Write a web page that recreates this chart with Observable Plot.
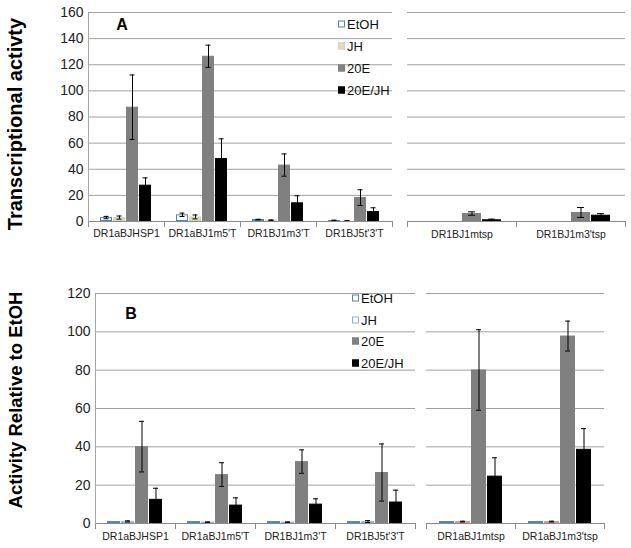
<!DOCTYPE html>
<html><head><meta charset="utf-8">
<script src="https://cdn.jsdelivr.net/npm/d3@7"></script>
<script src="https://cdn.jsdelivr.net/npm/@observablehq/plot@0.6"></script>
<style>
body{margin:0;background:#fff;}
#wrap{position:relative;width:631px;height:548px;font-family:"Liberation Sans",Arial,sans-serif;overflow:hidden;background:#fff;}
.panel{position:absolute;}
.ytitle{position:absolute;font-weight:bold;white-space:nowrap;transform:translate(-50%,-50%) rotate(-90deg);color:#000;}
.letter{position:absolute;font-weight:bold;color:#000;transform:translate(-50%,-50%);}
.legend{position:absolute;color:#111;}
.legend .row{position:absolute;left:0;white-space:nowrap;display:flex;align-items:center;transform:translateY(-50%);}
.sw{box-sizing:border-box;margin-right:2px;}
</style></head>
<body><div id="wrap"></div>
<script>
// ---------- data ----------
const seriesNames = ["EtOH", "JH", "20E", "20E/JH"];
const groupsLeft = ["DR1aBJHSP1", "DR1aBJ1m5'T", "DR1BJ1m3'T", "DR1BJ5t'3'T"];
const groupsARight = ["DR1BJ1mtsp", "DR1BJ1m3'tsp"];
const groupsBRight = ["DR1aBJ1mtsp", "DR1aBJ1m3'tsp"];
const ticksA = [0, 20, 40, 60, 80, 100, 120, 140, 160];
const ticksB = [0, 20, 40, 60, 80, 100, 120];
const titleA = "Transcriptional activty";
const titleB = "Activity Relative to EtOH";

// values per series (rows: EtOH, JH, 20E, 20E/JH), per group (columns)
const aLeftValues = [[3.0, 5.1, 1.5, 0.8], [3.0, 3.5, 1.0, 0.5], [87.5, 126.5, 43.2, 18.3], [27.8, 48.2, 14.3, 7.6]];
const aLeftErrors = [[0.9, 1.3, 0.2, 0.2], [1.2, 1.5, 0.2, 0.1], [24.7, 8.5, 8.5, 6.0], [5.6, 15.1, 5.4, 2.9]];
const aRightValues = [[0.3, 0.3], [0.1, 0.3], [6.1, 6.9], [1.3, 4.8]];
const aRightErrors = [[0, 0], [0, 0], [1.3, 3.8], [0.5, 1.2]];
const bLeftValues = [[1.0, 1.0, 1.0, 1.0], [1.1, 0.7, 0.7, 1.0], [40.1, 25.5, 32.3, 26.6], [12.6, 9.6, 10.1, 11.2]];
const bLeftErrors = [[0, 0, 0, 0], [0.3, 0.1, 0.1, 0.5], [13.2, 6.2, 6.1, 14.9], [5.8, 3.8, 2.8, 6.2]];
const bRightValues = [[1.0, 1.0], [1.0, 1.0], [80.1, 97.8], [24.7, 38.7]];
const bRightErrors = [[0, 0], [0.2, 0.2], [21.0, 7.8], [9.6, 10.8]];

// ---------- styles ----------
const fillsA = ["#ffffff", "#ddd9c3", "#808080", "#000000"];
const strokesA = ["#4f81bd", "#d6d2bb", "#808080", "#000000"];
const fillsBL = ["#ffffff", "#ffffff", "#808080", "#000000"];
const strokesBL = ["#4f81bd", "#95b3d7", "#808080", "#000000"];
const fillsBR = ["#4f81bd", "#c0504d", "#808080", "#000000"];
const strokesBR = ["#4f81bd", "#d99694", "#808080", "#000000"];

function rowsOf(groups, values, errors) {
  const rows = [];
  groups.forEach((g, gi) => seriesNames.forEach((s, si) => {
    rows.push({group: g, series: s, si, value: values[si][gi], err: errors[si][gi]});
  }));
  return rows;
}

function panel(o) {
  const rows = rowsOf(o.groups, o.values, o.errors);
  const er = rows.filter(d => d.err > 0);
  const plotH = o.height - o.mt - o.mb;
  const marks = [
    Plot.ruleY(o.ticks.filter(t => t > 0), {stroke: "#a0a0a0", strokeWidth: 1}),
    Plot.barY(rows, {fx: "group", x: "series", y: "value",
      fill: d => o.fills[d.si], stroke: d => o.strokes[d.si], strokeWidth: 1, inset: 0.5}),
    Plot.ruleX(er, {fx: "group", x: "series", y1: d => d.value - d.err, y2: d => d.value + d.err, stroke: "#000", strokeWidth: 1}),
    Plot.tickY(er, {fx: "group", x: "series", y: d => d.value + d.err, stroke: "#000", insetLeft: o.capInset, insetRight: o.capInset}),
    Plot.tickY(er, {fx: "group", x: "series", y: d => d.value - d.err, stroke: "#000", insetLeft: o.capInset, insetRight: o.capInset}),
    Plot.ruleY([0], {stroke: "#8c8c8c", strokeWidth: 1}),
    Plot.frame({anchor: "left", stroke: "#8c8c8c", insetTop: plotH, insetBottom: -5}),
    Plot.frame({anchor: "right", stroke: "#8c8c8c", insetTop: plotH, insetBottom: -5}),
    Plot.axisFx({anchor: "bottom", label: null, tickSize: 0, tickPadding: o.labPad, fontSize: 10.5, fill: "#222"})
  ];
  if (o.showY) {
    marks.push(Plot.frame({anchor: "left", stroke: "#a6a6a6", facetAnchor: "left"}));
    marks.push(Plot.axisY({ticks: o.ticks, tickSize: 0, tickPadding: 5, fontSize: 14, label: null, fill: "#222", facetAnchor: "left"}));
  }
  const chart = Plot.plot({
    width: o.width, height: o.height,
    marginLeft: o.ml, marginRight: o.mr, marginTop: o.mt, marginBottom: o.mb,
    fx: {domain: o.groups, padding: 0, axis: null},
    x: {domain: seriesNames, axis: null, paddingInner: 0.04, paddingOuter: o.po},
    y: {domain: [0, o.ticks[o.ticks.length - 1]], axis: null},
    style: {fontFamily: "'Liberation Sans', Arial, sans-serif", background: "transparent", overflow: "visible", color: "#222"},
    marks
  });
  const div = document.createElement("div");
  div.className = "panel";
  div.style.left = o.left + "px";
  div.style.top = o.top + "px";
  div.appendChild(chart);
  return div;
}

const wrap = document.getElementById("wrap");
wrap.appendChild(panel({groups: groupsLeft, values: aLeftValues, errors: aLeftErrors, fills: fillsA, strokes: strokesA,
  ticks: ticksA, left: 0, top: 0, width: 400, height: 245, ml: 88, mr: 8, mt: 12, mb: 24, po: 0.8, capInset: 3.5, labPad: 8, showY: true}));
wrap.appendChild(panel({groups: groupsARight, values: aRightValues, errors: aRightErrors, fills: fillsA, strokes: strokesA,
  ticks: ticksA, left: 400, top: 0, width: 231, height: 245, ml: 7, mr: 6, mt: 12, mb: 24, po: 0.72, capInset: 6, labPad: 9, showY: false}));
wrap.appendChild(panel({groups: groupsLeft, values: bLeftValues, errors: bLeftErrors, fills: fillsBL, strokes: strokesBL,
  ticks: ticksB, left: 0, top: 270, width: 420, height: 278, ml: 94, mr: 5, mt: 23, mb: 25, po: 0.72, capInset: 4, labPad: 9, showY: true}));
wrap.appendChild(panel({groups: groupsBRight, values: bRightValues, errors: bRightErrors, fills: fillsBR, strokes: strokesBR,
  ticks: ticksB, left: 420, top: 270, width: 211, height: 278, ml: 5, mr: 27, mt: 23, mb: 25, po: 0.8, capInset: 5, labPad: 9, showY: false}));

function addText(cls, text, x, y, size) {
  const d = document.createElement("div");
  d.className = cls;
  d.textContent = text;
  d.style.left = x + "px";
  d.style.top = y + "px";
  d.style.fontSize = size + "px";
  wrap.appendChild(d);
}
addText("ytitle", titleA, 15, 124, 20);
addText("ytitle", titleB, 16, 400, 18.5);
addText("letter", "A", 122, 25, 16);
addText("letter", "B", 131, 314, 16);

function legend(x, y, gap, fills, strokes, size, sw) {
  const lg = document.createElement("div");
  lg.className = "legend";
  lg.style.left = x + "px";
  lg.style.top = y + "px";
  lg.style.fontSize = size + "px";
  seriesNames.forEach((s, i) => {
    const r = document.createElement("div");
    r.className = "row";
    r.style.top = (i * gap) + "px";
    const b = document.createElement("span");
    b.className = "sw";
    b.style.width = sw + "px";
    b.style.height = sw + "px";
    b.style.background = fills[i];
    b.style.border = "1px solid " + strokes[i];
    r.appendChild(b);
    r.appendChild(document.createTextNode(s));
    lg.appendChild(r);
  });
  wrap.appendChild(lg);
}
legend(338, 24, 22, fillsA, strokesA, 13, 7);
legend(352, 298, 21.7, fillsBL, strokesBL, 13, 7);
</script></body></html>
